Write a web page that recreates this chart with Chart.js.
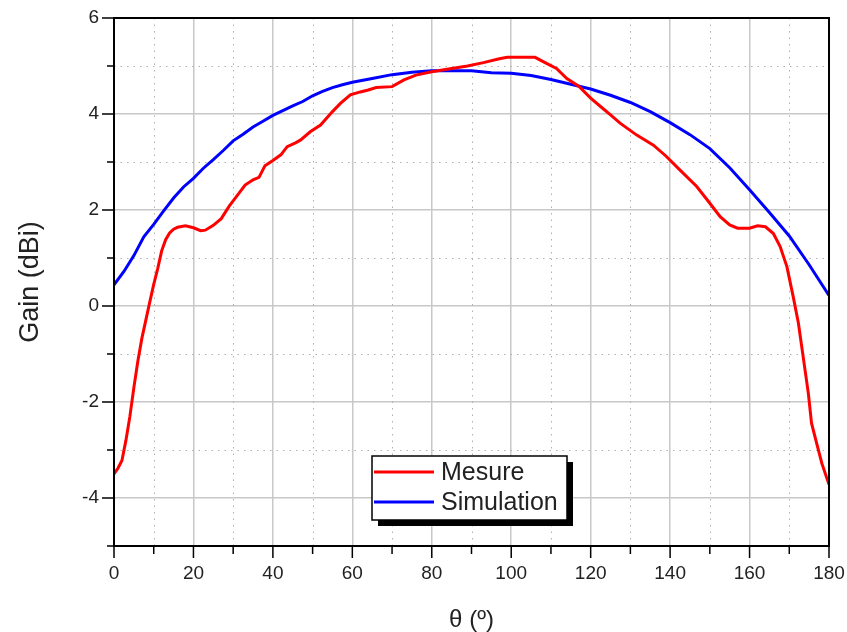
<!DOCTYPE html>
<html>
<head>
<meta charset="utf-8">
<script src="https://cdn.jsdelivr.net/npm/chart.js@4/dist/chart.umd.min.js"></script>
<style>
  html, body { margin: 0; padding: 0; background: #ffffff; }
  #wrap { width: 847px; height: 632px; }
</style>
</head>
<body>
<div id="wrap"><canvas id="c" width="847" height="632"></canvas></div>
<script>
// ---- Data ----
const mesureTheta = [0, 1, 2, 3, 4, 5, 6, 7, 8, 9, 10, 11, 12, 13, 14, 15, 16, 18, 20, 21.8, 23, 25, 27, 29, 31, 33, 35, 36.5, 38, 40, 42, 43.6, 45.7, 47, 49.4, 52, 55, 57, 59.5, 62, 64, 66, 70, 73, 76, 80, 85, 89, 93, 97, 99, 106, 109, 111.4, 114, 117, 120, 123, 125, 127.4, 131.6, 135.8, 139, 142.5, 146.7, 150, 152.6, 155, 157, 160, 162, 164, 166, 167.7, 169.4, 171, 172.3, 173.5, 174.8, 175.6, 176.9, 178.2, 180];
const mesureGain = [-3.5, -3.38, -3.22, -2.8, -2.3, -1.7, -1.15, -0.68, -0.3, 0.08, 0.45, 0.78, 1.15, 1.38, 1.52, 1.6, 1.64, 1.67, 1.63, 1.57, 1.58, 1.68, 1.82, 2.08, 2.3, 2.52, 2.63, 2.68, 2.92, 3.03, 3.15, 3.32, 3.4, 3.46, 3.63, 3.77, 4.05, 4.22, 4.4, 4.46, 4.5, 4.55, 4.57, 4.71, 4.81, 4.88, 4.95, 5.0, 5.07, 5.15, 5.18, 5.18, 5.05, 4.95, 4.74, 4.58, 4.33, 4.12, 3.98, 3.81, 3.56, 3.35, 3.12, 2.83, 2.49, 2.14, 1.86, 1.69, 1.62, 1.62, 1.67, 1.65, 1.51, 1.24, 0.82, 0.19, -0.36, -1.06, -1.82, -2.44, -2.86, -3.28, -3.72];

const simTheta = [0, 2.5, 5, 7.5, 10, 12.5, 15, 17.5, 20, 22.5, 25, 27.5, 30, 32.5, 35, 37.5, 40, 42.5, 45, 47.5, 50, 52.5, 55, 57.5, 60, 65, 70, 75, 80, 85, 90, 95, 100, 105, 110, 115, 120, 125, 130, 135, 140, 145, 150, 155, 160, 165, 170, 175, 180];
const simGain = [0.44, 0.72, 1.05, 1.44, 1.7, 1.98, 2.25, 2.48, 2.66, 2.87, 3.05, 3.24, 3.44, 3.58, 3.73, 3.85, 3.97, 4.07, 4.17, 4.26, 4.38, 4.47, 4.55, 4.61, 4.66, 4.74, 4.82, 4.87, 4.9, 4.9, 4.9, 4.86, 4.85, 4.8, 4.72, 4.62, 4.52, 4.39, 4.24, 4.05, 3.82, 3.57, 3.28, 2.88, 2.42, 1.95, 1.46, 0.86, 0.22];

const seriesNames = ['Mesure', 'Simulation'];
const xTickLabels = [0, 20, 40, 60, 80, 100, 120, 140, 160, 180];
const yTickLabels = [-4, -2, 0, 2, 4, 6];
const xTitle = 'θ (º)';
const yTitle = 'Gain (dBi)';

// ---- Styling ----
const FONT = '"Liberation Sans", Arial, sans-serif';
const TEXT = '#222222';
const GRID_MAJOR = '#c8c8c8';
const GRID_MINOR = '#b0b0b0';

function pts(xs, ys) { return xs.map((x, i) => ({ x: x, y: ys[i] })); }

const decor = {
  id: 'decor',
  beforeDatasetsDraw(chart) {
    const ctx = chart.ctx, a = chart.chartArea;
    const xs = chart.scales.x, ys = chart.scales.y;
    ctx.save();
    ctx.strokeStyle = GRID_MINOR;
    ctx.lineWidth = 1;
    ctx.setLineDash([1.5, 5]);
    for (let v = 10; v < 180; v += 20) {
      const px = Math.round(xs.getPixelForValue(v)) + 0.5;
      ctx.beginPath(); ctx.moveTo(px, a.top); ctx.lineTo(px, a.bottom); ctx.stroke();
    }
    for (let v = -5; v <= 6; v += 1) {
      if (v % 2 === 0 || v === -5) continue;
      const py = Math.round(ys.getPixelForValue(v)) + 0.5;
      ctx.beginPath(); ctx.moveTo(a.left, py); ctx.lineTo(a.right, py); ctx.stroke();
    }
    ctx.restore();
  },
  afterDatasetsDraw(chart) {
    const ctx = chart.ctx, a = chart.chartArea;
    const xs = chart.scales.x, ys = chart.scales.y;
    ctx.save();
    ctx.setLineDash([]);
    // frame
    ctx.strokeStyle = '#000000';
    ctx.lineWidth = 2;
    ctx.strokeRect(a.left, a.top, a.right - a.left, a.bottom - a.top);
    // ticks
    ctx.lineWidth = 1.5;
    for (let v = 0; v <= 180; v += 10) {
      const px = xs.getPixelForValue(v);
      const len = (v % 20 === 0) ? 12 : 8;
      ctx.beginPath(); ctx.moveTo(px, a.bottom); ctx.lineTo(px, a.bottom + len); ctx.stroke();
    }
    for (let v = -5; v <= 6; v += 1) {
      const py = ys.getPixelForValue(v);
      const len = (v % 2 === 0) ? 12 : 7;
      ctx.beginPath(); ctx.moveTo(a.left, py); ctx.lineTo(a.left - len, py); ctx.stroke();
    }
    // legend box with shadow
    const bx = 372, by = 456, bw = 195, bh = 64;
    ctx.fillStyle = '#000000';
    ctx.fillRect(bx + 6, by + 6, bw, bh);
    ctx.fillStyle = '#ffffff';
    ctx.fillRect(bx, by, bw, bh);
    ctx.strokeStyle = '#000000';
    ctx.lineWidth = 1.5;
    ctx.strokeRect(bx, by, bw, bh);
    const ds = chart.data.datasets;
    const rows = [472, 502];
    ctx.font = '25px ' + FONT;
    ctx.textBaseline = 'middle';
    ctx.textAlign = 'left';
    ds.forEach((d, i) => {
      ctx.strokeStyle = d.borderColor;
      ctx.lineWidth = 3;
      ctx.beginPath(); ctx.moveTo(bx + 2, rows[i]); ctx.lineTo(bx + 62, rows[i]); ctx.stroke();
      ctx.fillStyle = TEXT;
      ctx.fillText(d.label, bx + 69, rows[i] + 1);
    });
    ctx.restore();
  }
};

new Chart(document.getElementById('c'), {
  type: 'line',
  data: {
    datasets: [
      { label: seriesNames[0], data: pts(mesureTheta, mesureGain), borderColor: '#ff0000', borderWidth: 3, pointRadius: 0, tension: 0, fill: false },
      { label: seriesNames[1], data: pts(simTheta, simGain), borderColor: '#0000ff', borderWidth: 3, pointRadius: 0, tension: 0, fill: false }
    ]
  },
  options: {
    responsive: false,
    animation: false,
    events: [],
    layout: { padding: { top: 18, right: 18, left: 0, bottom: 0 } },
    plugins: { legend: { display: false }, tooltip: { enabled: false } },
    scales: {
      x: {
        type: 'linear', min: 0, max: 180,
        afterFit(s) { s.height = 86; s.paddingLeft = 0; s.paddingRight = 0; },
        ticks: {
          stepSize: 10, autoSkip: false, maxRotation: 0, padding: 16,
          color: TEXT, font: { family: FONT, size: 19 },
          callback: (v) => xTickLabels.includes(v) ? String(v) : ''
        },
        grid: {
          drawTicks: false,
          lineWidth: 1.5,
          color: (c) => (c.tick && c.tick.value % 20 === 0) ? GRID_MAJOR : 'rgba(0,0,0,0)'
        },
        border: { display: false },
        title: { display: true, text: xTitle, color: TEXT, font: { family: FONT, size: 24 }, padding: { top: 0, bottom: -3 } }
      },
      y: {
        type: 'linear', min: -5, max: 6,
        afterFit(s) { s.width = 114; s.paddingTop = 0; s.paddingBottom = 0; },
        ticks: {
          stepSize: 1, autoSkip: false, padding: 15,
          color: TEXT, font: { family: FONT, size: 19 },
          callback: (v) => yTickLabels.includes(v) ? String(v) : ''
        },
        grid: {
          drawTicks: false,
          lineWidth: 1.5,
          color: (c) => (c.tick && c.tick.value % 2 === 0) ? GRID_MAJOR : 'rgba(0,0,0,0)'
        },
        border: { display: false },
        title: { display: true, text: yTitle, color: TEXT, font: { family: FONT, size: 27 }, padding: { top: 14, bottom: 0 } }
      }
    }
  },
  plugins: [decor]
});
</script>
</body>
</html>
